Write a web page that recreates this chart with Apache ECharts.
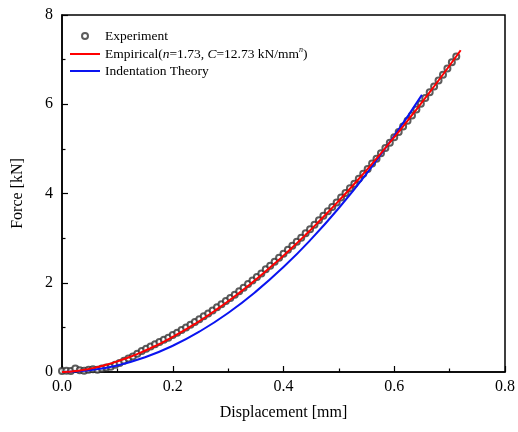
<!DOCTYPE html>
<html>
<head>
<meta charset="utf-8">
<script src="https://cdn.jsdelivr.net/npm/echarts@6/dist/echarts.min.js"></script>
<style>html,body{margin:0;padding:0;background:#fff}#c{width:518px;height:432px}</style>
</head>
<body>
<div id="c"></div>
<script>
// Experiment data (displacement mm, force kN)
var expD = [0.000,0.008,0.016,0.024,0.032,0.040,0.048,0.056,0.064,0.072,0.080,0.088,0.096,0.104,0.112,0.120,0.128,0.136,0.144,0.152,0.160,0.168,0.176,0.184,0.192,0.200,0.208,0.216,0.224,0.232,0.240,0.248,0.256,0.264,0.272,0.280,0.288,0.296,0.304,0.312,0.320,0.328,0.336,0.344,0.352,0.360,0.368,0.376,0.384,0.392,0.400,0.408,0.416,0.424,0.432,0.440,0.448,0.456,0.464,0.472,0.480,0.488,0.496,0.504,0.512,0.520,0.528,0.536,0.544,0.552,0.560,0.568,0.576,0.584,0.592,0.600,0.608,0.616,0.624,0.632,0.640,0.648,0.656,0.664,0.672,0.680,0.688,0.696,0.704,0.712];
var expF = [0.02,0.03,0.02,0.08,0.04,0.03,0.05,0.06,0.05,0.08,0.10,0.12,0.16,0.20,0.25,0.30,0.35,0.41,0.47,0.52,0.57,0.62,0.67,0.72,0.77,0.83,0.88,0.94,1.00,1.06,1.12,1.18,1.25,1.31,1.38,1.45,1.52,1.59,1.66,1.73,1.81,1.89,1.97,2.05,2.13,2.21,2.30,2.38,2.47,2.56,2.65,2.74,2.83,2.92,3.01,3.11,3.20,3.30,3.40,3.50,3.60,3.70,3.80,3.91,4.01,4.12,4.22,4.33,4.44,4.55,4.67,4.78,4.90,5.02,5.14,5.26,5.38,5.50,5.63,5.75,5.88,6.01,6.14,6.27,6.40,6.53,6.66,6.80,6.94,7.07];
// Empirical fit curve
var empD = [0,0.01,0.02,0.03,0.04,0.05,0.06,0.07,0.08,0.09,0.10,0.12,0.14,0.16,0.18,0.20,0.22,0.24,0.26,0.28,0.30,0.32,0.34,0.36,0.38,0.40,0.42,0.44,0.46,0.48,0.50,0.52,0.54,0.56,0.58,0.60,0.62,0.64,0.66,0.68,0.70,0.72];
var empF = [0,0.004,0.015,0.030,0.049,0.072,0.098,0.128,0.161,0.198,0.237,0.325,0.424,0.535,0.655,0.786,0.927,1.078,1.238,1.408,1.586,1.773,1.969,2.174,2.387,2.608,2.838,3.076,3.322,3.576,3.838,4.107,4.384,4.669,4.962,5.261,5.567,5.882,6.204,6.532,6.869,7.21];
// Indentation theory curve
var indD = [0,0.05,0.10,0.15,0.20,0.25,0.30,0.35,0.40,0.45,0.50,0.55,0.60,0.65];
var indF = [0,0.037,0.147,0.331,0.588,0.919,1.323,1.801,2.352,2.977,3.675,4.447,5.292,6.211];
var xTicks = ['0.0','0.2','0.4','0.6','0.8'];
var yTicks = ['0','2','4','6','8'];

function zip(a,b){return a.map(function(v,i){return [v,b[i]];});}
var font = 'Liberation Serif, Times New Roman, serif';
var lineIcon = 'path://M0,0L30,0L30,2L0,2Z';
var chart = echarts.init(document.getElementById('c'), null, {renderer:'canvas'});
chart.setOption({
  animation:false,
  backgroundColor:'#fff',
  textStyle:{fontFamily:font},
  grid:{left:62,right:12,top:15,bottom:60,show:true,borderColor:'#000',borderWidth:1.5,backgroundColor:'transparent'},
  legend:{
    orient:'vertical',left:65,top:24,itemGap:3,itemWidth:30,itemHeight:6,
    textStyle:{fontFamily:font,fontSize:13.5,color:'#000',
      rich:{i:{fontStyle:'italic',fontFamily:font,fontSize:13.5,color:'#000'},
            sup:{fontStyle:'italic',fontFamily:font,fontSize:8,color:'#000',verticalAlign:'top',padding:[0,0,8,0]}}},
    formatter:function(name){
      if(name==='Empirical') return 'Empirical({i|n}=1.73, {i|C}=12.73 kN/mm{sup|n})';
      return name;
    },
    data:[{name:'Experiment',icon:'emptyCircle'},
          {name:'Empirical',icon:lineIcon},
          {name:'Indentation Theory',icon:lineIcon}]
  },
  xAxis:{type:'value',min:0,max:0.8,interval:0.2,
    name:'Displacement [mm]',nameLocation:'middle',nameGap:33,
    nameTextStyle:{fontFamily:font,fontSize:16,color:'#000'},
    axisLine:{lineStyle:{color:'#000',width:1.5}},
    axisTick:{inside:true,length:6,lineStyle:{color:'#000',width:1.2}},
    minorTick:{show:true,splitNumber:2,length:3.5,lineStyle:{color:'#000',width:1.2}},
    axisLabel:{fontFamily:font,fontSize:16,color:'#000',margin:7,
      formatter:function(v){var i=Math.round(v/0.2);return xTicks[i];}},
    splitLine:{show:false}},
  yAxis:{type:'value',min:0,max:8,interval:2,
    name:'Force [kN]',nameLocation:'middle',nameGap:36,
    nameTextStyle:{fontFamily:font,fontSize:16,color:'#000'},
    axisLine:{lineStyle:{color:'#000',width:1.5}},
    axisTick:{inside:true,length:6,lineStyle:{color:'#000',width:1.2}},
    minorTick:{show:true,splitNumber:2,length:3.5,lineStyle:{color:'#000',width:1.2}},
    axisLabel:{fontFamily:font,fontSize:16,color:'#000',margin:9,
      formatter:function(v){var i=Math.round(v/2);return yTicks[i];}},
    splitLine:{show:false}},
  series:[
    {name:'Experiment',type:'scatter',data:zip(expD,expF),symbol:'emptyCircle',symbolSize:6,
      itemStyle:{color:'#333',borderWidth:0.8},z:2},
    {name:'Empirical',type:'line',data:zip(empD,empF),smooth:true,symbol:'none',showSymbol:false,
      lineStyle:{color:'#ff0000',width:2},itemStyle:{color:'#ff0000'},z:4},
    {name:'Indentation Theory',type:'line',data:zip(indD,indF),smooth:true,symbol:'none',showSymbol:false,
      lineStyle:{color:'#0a14f0',width:2},itemStyle:{color:'#0a14f0'},z:3}
  ]
});
</script>
</body>
</html>
